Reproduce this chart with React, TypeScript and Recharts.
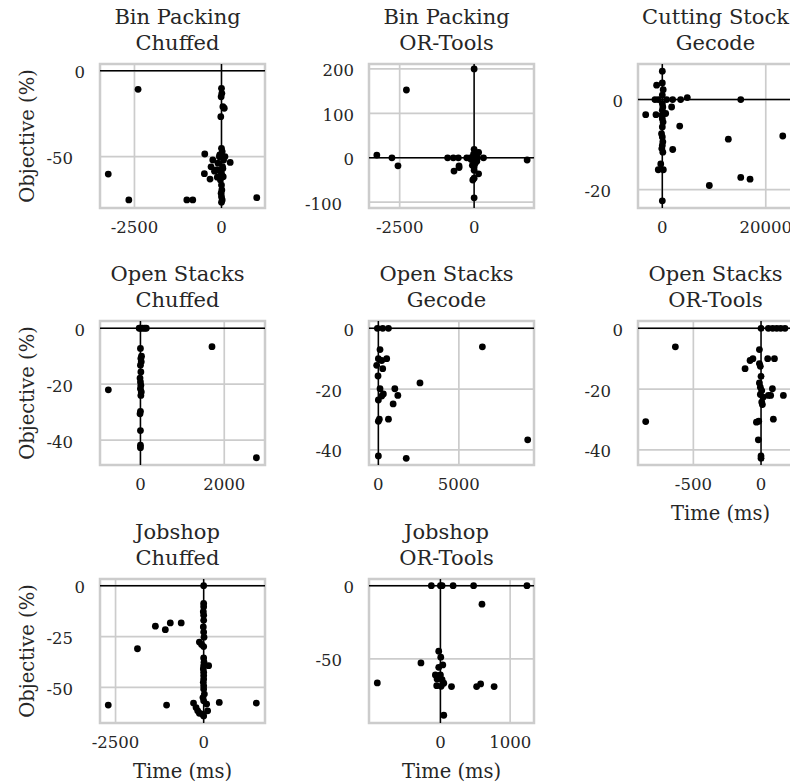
import React from 'react';
import {
  ScatterChart,
  Scatter,
  XAxis,
  YAxis,
  CartesianGrid,
  ReferenceLine,
  ReferenceArea,
} from 'recharts';

const FONT = '"DejaVu Serif", serif';
const INK = '#262626';
const GRID = '#cccccc';

// each point: [time difference (ms), objective difference (%)]
const binPackingChuffed: [number, number][] = [
  [-2396, -10.8], [-3253, -60.2], [-2662, -75.3], [-996, -75.3], [-825, -75.3], [1013, -74],
  [-492, -60], [-329, -63.1], [-480, -48.5], [250, -53.4], [-300, -56], [-200, -58.5],
  [-120, -62], [-50, -49], [40, -57], [-250, -52], [100, -50], [-80, -58],
  [0, -10.2], [10, -13.1], [-10, -15.1], [40, -20.9], [80, -21.8], [-20, -26.7],
  [0, -45.2], [20, -47.1], [-60, -50.1], [60, -52], [-100, -53.9], [30, -55.9],
  [-150, -57.8], [0, -59.8], [50, -61.7], [-30, -63.7], [0, -66.6], [10, -69.5],
  [-10, -71.4], [0, -73.4], [20, -75.3], [0, -76.7],
];

const binPackingOrTools: [number, number][] = [
  [0, 200], [-2274, 152.5], [-3267, 6], [-2760, 0], [-2557, -18], [1780, -5],
  [-890, 0], [-699, 0], [-530, 0], [-248, 0], [-135, 0], [0, 19], [150, 12], [315, 0],
  [115, 0], [-50, 0], [-676, -30], [-507, -18], [-505, -22], [0, -28], [0, -46],
  [-45, -50], [150, -36], [-60, -17], [30, -13], [0, -90], [60, 5], [-20, 8],
  [0, -20], [-100, -4], [90, -8],
];

const cuttingStockGecode: [number, number][] = [
  [0, 6.3], [-1100, 3.2], [0, 3.7], [170, 2.2], [0, 1.0], [-1420, 0], [-780, 0],
  [840, 0], [2000, 0], [3540, 0], [4830, 0.45], [15164, 0], [-3211, -3.35],
  [-1225, -3.35], [1800, -1.65], [650, -3.1], [3365, -5.9], [12766, -8.8],
  [23288, -8.1], [2011, -11.1], [9091, -19.1], [15164, -17.3], [16963, -17.7],
  [0, -22.5], [0, -0.9], [100, -1.65], [0, -2.4], [-100, -3.5], [0, -4.25],
  [150, -5.0], [0, -6.1], [-150, -7.6], [0, -8.3], [100, -9.4], [0, -10.2],
  [-100, -10.9], [100, -11.7], [-300, -14.3], [-780, -15.6], [200, -15.6],
];

const openStacksChuffed: [number, number][] = [
  [-766, -22], [1707, -6.6], [2767, -46.3], [0, 0], [-30, 0], [50, 0], [100, 0],
  [140, 0], [0, -7.2], [25, -10], [10, -10.8], [20, -12], [0, -13.2], [10, -15.6],
  [-10, -17.8], [0, -19.2], [10, -20.4], [0, -21.6], [20, -22.8], [10, -24],
  [0, -29.7], [-10, -30.6], [0, -36.6], [0, -41.8], [0, -42.7],
];

const openStacksGecode: [number, number][] = [
  [6460, -6.1], [9275, -36.7], [1731, -42.8], [2585, -18], [1023, -19.9],
  [1210, -22.1], [919, -24.9], [627, -29.9], [519, -10], [-60, 0], [271, 0],
  [627, 0], [104, -7], [0, -10], [208, -10.6], [-104, -12.2], [271, -13.3],
  [-20, -15.7], [104, -19.9], [312, -21.6], [208, -22.3], [0, -23.6], [62, -29.9],
  [0, -30.6], [0, -42],
];

const openStacksOrTools: [number, number][] = [
  [-633, -6.1], [-852, -30.7], [0, 0], [54, 0], [86, 0], [116, 0], [145, 0], [177, 0],
  [-12, -7], [-81, -10.6], [-60, -10], [-118, -13.3], [-12, -11.6], [-5, -12.5],
  [49, -10], [99, -10], [0, -15.8], [-12, -18], [-5, -19.4], [5, -20.5], [-5, -21.8],
  [15, -22.7], [5, -24.3], [10, -25.1], [84, -19.9], [54, -22.1], [71, -22.1],
  [165, -22.1], [91, -29.9], [-17, -30.6], [-34, -30.9], [-20, -36.7], [0, -42],
  [0, -42.8],
];

const jobshopChuffed: [number, number][] = [
  [-2707, -58.7], [-1052, -58.7], [-1878, -31], [-1370, -19.9], [-1088, -21.6],
  [-947, -18.3], [-637, -18.3], [443, -57.4], [1494, -57.7], [141, -39.3], [0, 0],
  [-288, -57.7], [-216, -59.9], [-169, -61.5], [-122, -62.7], [-28, -63.2],
  [85, -58.2], [113, -61.5], [0, -64], [0, -8.7], [0, -10.3], [-10, -12.8],
  [0, -14.5], [0, -17], [-10, -20.3], [0, -22.8], [10, -25.3], [-122, -27.7],
  [-60, -28.9], [0, -29.9], [0, -35.5], [10, -37.6], [0, -39.3], [-10, -40.9],
  [0, -42.6], [0, -44.2], [0, -45.9], [-10, -47.5], [0, -49.2], [0, -50.8],
  [20, -53.3], [-20, -55], [0, -56.6],
];

const jobshopOrTools: [number, number][] = [
  [-130, 0], [0, 0], [24, 0], [182, 0], [476, 0], [1241, 0], [596, -12.6],
  [-24, -44.8], [-279, -52.8], [5, -48.9], [34, -54.2], [-24, -55.8], [-72, -61],
  [0, -61], [-48, -63.8], [24, -64.3], [-53, -68.4], [10, -68.8], [48, -66.7],
  [-905, -66.5], [159, -69], [519, -69], [577, -67.2], [770, -69], [48, -88.6],
];

const series = [
  binPackingChuffed, binPackingOrTools, cuttingStockGecode,
  openStacksChuffed, openStacksGecode, openStacksOrTools,
  jobshopChuffed, jobshopOrTools,
];

const titles = [
  ['Bin Packing', 'Chuffed'], ['Bin Packing', 'OR-Tools'], ['Cutting Stock', 'Gecode'],
  ['Open Stacks', 'Chuffed'], ['Open Stacks', 'Gecode'], ['Open Stacks', 'OR-Tools'],
  ['Jobshop', 'Chuffed'], ['Jobshop', 'OR-Tools'],
];

const xDomains: [number, number][] = [
  [-3490, 1250], [-3530, 2010], [-4700, 27200],
  [-965, 2972], [-581, 9666], [-909, 310],
  [-2941, 1740], [-1024, 1342],
];
const yDomains: [number, number][] = [
  [-80, 4], [-113, 211], [-24.1, 7.9],
  [-48.9, 2.6], [-45, 2.4], [-45, 2.4],
  [-67.5, 3.3], [-93.9, 4.6],
];
const xTicks = [
  [-2500, 0], [-2500, 0], [0, 20000],
  [0, 2000], [0, 5000], [-500, 0],
  [-2500, 0], [0, 1000],
];
const yTicks = [
  [-50, 0], [-100, 0, 100, 200], [-20, 0],
  [-40, -20, 0], [-40, -20, 0], [-40, -20, 0],
  [-50, -25, 0], [-50, 0],
];

// layout of the plot boxes on the page
const COL_LEFT = [100, 369, 638];
const ROW_TOP = [64, 321, 579];
const BOX_W = 165;
const BOX_H = 144;
const AXIS_W = 90;
const PAD = 10;
const AXIS_H = 68;

const XTick = ({ x, y, payload }: any) => (
  <text x={x} y={y + 24.5} textAnchor="middle" fontSize={16.5} fontFamily={FONT} fill={INK}>
    {payload.value}
  </text>
);

const YTick = ({ x, y, payload }: any) => (
  <text
    x={x - (payload.value < 0 ? 27 : 15)}
    y={y + 7.5}
    textAnchor="end"
    fontSize={16.5}
    fontFamily={FONT}
    fill={INK}
  >
    {payload.value}
  </text>
);

const yLabel = () => {
  const cx = 24;
  const cy = PAD + BOX_H / 2;
  return (
    <text
      x={cx}
      y={cy}
      transform={`rotate(-90, ${cx}, ${cy})`}
      textAnchor="middle"
      fontSize={19.5}
      fontFamily={FONT}
      fill={INK}
    >
      Objective (%)
    </text>
  );
};

const xLabel = () => (
  <text
    x={AXIS_W + BOX_W / 2}
    y={PAD + BOX_H + 55}
    textAnchor="middle"
    fontSize={19.5}
    fontFamily={FONT}
    fill={INK}
  >
    Time (ms)
  </text>
);

const Dot = (p: any) => <circle cx={p.cx} cy={p.cy} r={3.4} fill="#000" />;

function Panel({ i }: { i: number }) {
  const col = i % 3;
  const row = Math.floor(i / 3);
  const left = COL_LEFT[col];
  const top = ROW_TOP[row];
  const xd = xDomains[i];
  const yd = yDomains[i];
  const data = series[i].map(([x, y]) => ({ x, y }));

  return (
    <>
      <div
        style={{
          position: 'absolute',
          left: left - 5,
          top: top - 60.3,
          width: BOX_W,
          fontSize: 21,
          lineHeight: '26px',
          textAlign: 'center',
          whiteSpace: 'nowrap',
          color: INK,
        }}
      >
        {titles[i][0]}
        <br />
        {titles[i][1]}
      </div>
      <div style={{ position: 'absolute', left: left - AXIS_W, top: top - PAD }}>
        <ScatterChart
          width={AXIS_W + BOX_W + PAD}
          height={PAD + BOX_H + AXIS_H}
          margin={{ top: PAD, right: PAD, bottom: 0, left: 0 }}
        >
          <CartesianGrid stroke={GRID} strokeWidth={1.7} />
          <XAxis
            type="number"
            dataKey="x"
            domain={xd}
            ticks={xTicks[i]}
            interval={0}
            allowDataOverflow
            axisLine={false}
            tickLine={false}
            tickSize={0}
            tickMargin={0}
            height={AXIS_H}
            tick={XTick}
            label={row === 2 || i === 5 ? xLabel : undefined}
          />
          <YAxis
            type="number"
            dataKey="y"
            domain={yd}
            ticks={yTicks[i]}
            interval={0}
            allowDataOverflow
            axisLine={false}
            tickLine={false}
            tickSize={0}
            tickMargin={0}
            width={AXIS_W}
            tick={YTick}
            label={col === 0 ? yLabel : undefined}
          />
          <ReferenceArea
            x1={xd[0]}
            x2={xd[1]}
            y1={yd[0]}
            y2={yd[1]}
            fill="none"
            fillOpacity={0}
            stroke={GRID}
            strokeWidth={2.5}
            ifOverflow="visible"
          />
          <ReferenceLine y={0} stroke="#000" strokeWidth={1.5} />
          <ReferenceLine x={0} stroke="#000" strokeWidth={1.5} />
          <Scatter data={data} fill="#000" shape={Dot} isAnimationActive={false} />
        </ScatterChart>
      </div>
    </>
  );
}

export default function App() {
  return (
    <div
      style={{
        position: 'absolute',
        left: 0,
        top: 0,
        width: 790,
        height: 784,
        overflow: 'hidden',
        background: '#fff',
        fontFamily: FONT,
      }}
    >
      {series.map((_, i) => (
        <Panel key={i} i={i} />
      ))}
    </div>
  );
}
